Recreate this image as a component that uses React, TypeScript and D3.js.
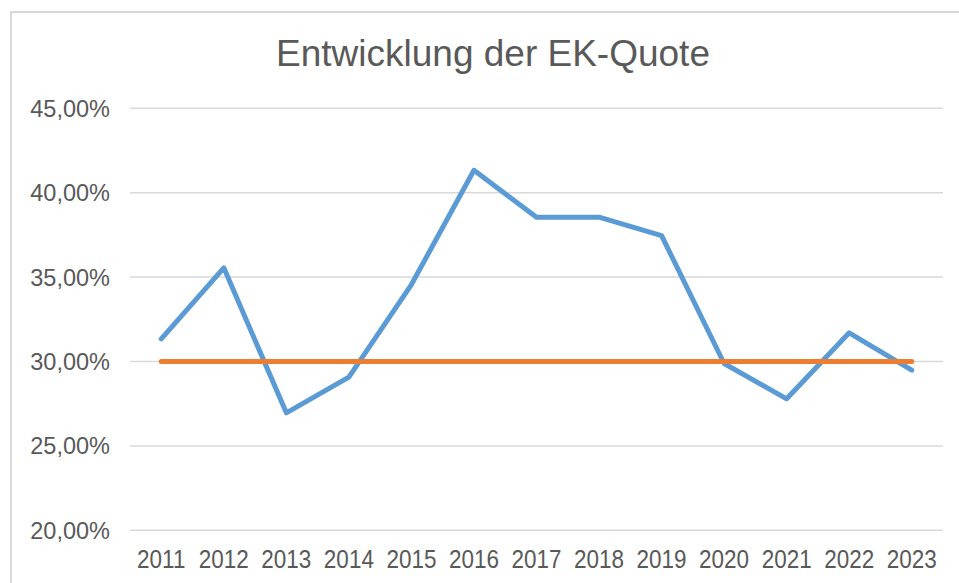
import React from "react";
import * as d3 from "d3";

const years = ["2011","2012","2013","2014","2015","2016","2017","2018","2019","2020","2021","2022","2023"];
const ekQuote = [31.34, 35.55, 26.96, 29.07, 34.56, 41.33, 38.55, 38.55, 37.46, 29.88, 27.79, 31.70, 29.49];
const target = [30, 30, 30, 30, 30, 30, 30, 30, 30, 30, 30, 30, 30];
const yTicks = [20, 25, 30, 35, 40, 45];
const title = "Entwicklung der EK-Quote";

const W = 959, H = 583;
const plot = { left: 130, right: 943, top: 108.3, bottom: 530.3 };
const FONT = "'Liberation Sans', Arial, sans-serif";
const TEXT = "#595959";

export default function App() {
  const x = d3.scaleBand<string>().domain(years).range([plot.left, plot.right]);
  const y = d3.scaleLinear().domain([20, 45]).range([plot.bottom, plot.top]);
  const cx = (d: string) => (x(d) as number) + x.bandwidth() / 2;
  const line = d3.line<number>().x((_, i) => cx(years[i])).y((v) => y(v));
  const fmt = (v: number) => v.toFixed(2).replace(".", ",") + "%";

  return (
    <svg width={W} height={H} style={{ position: "absolute", left: 0, top: 0, background: "#fff" }}>
      <rect x={11} y={12} width={980} height={600} fill="#fff" stroke="#d9d9d9" strokeWidth={2} />
      <text x={493} y={66} textAnchor="middle" fontFamily={FONT} fontSize={37} fill={TEXT}>{title}</text>
      {yTicks.map((t) => (
        <g key={t}>
          <line x1={plot.left} x2={plot.right} y1={y(t)} y2={y(t)} stroke="#d9d9d9" strokeWidth={1.5} />
          <text x={110} y={y(t)} dy="0.36em" textAnchor="end" fontFamily={FONT} fontSize={23.5} fill={TEXT}>{fmt(t)}</text>
        </g>
      ))}
      {years.map((yr) => (
        <text key={yr} transform={`translate(${cx(yr)},568) scale(1,1.12)`} textAnchor="middle" fontFamily={FONT} fontSize={22.5} fill={TEXT}>{yr}</text>
      ))}
      <path d={line(ekQuote) || ""} fill="none" stroke="#5B9BD5" strokeWidth={5} strokeLinecap="round" strokeLinejoin="round" />
      <path d={line(target) || ""} fill="none" stroke="#ED7D31" strokeWidth={5} strokeLinecap="round" strokeLinejoin="round" />
    </svg>
  );
}
